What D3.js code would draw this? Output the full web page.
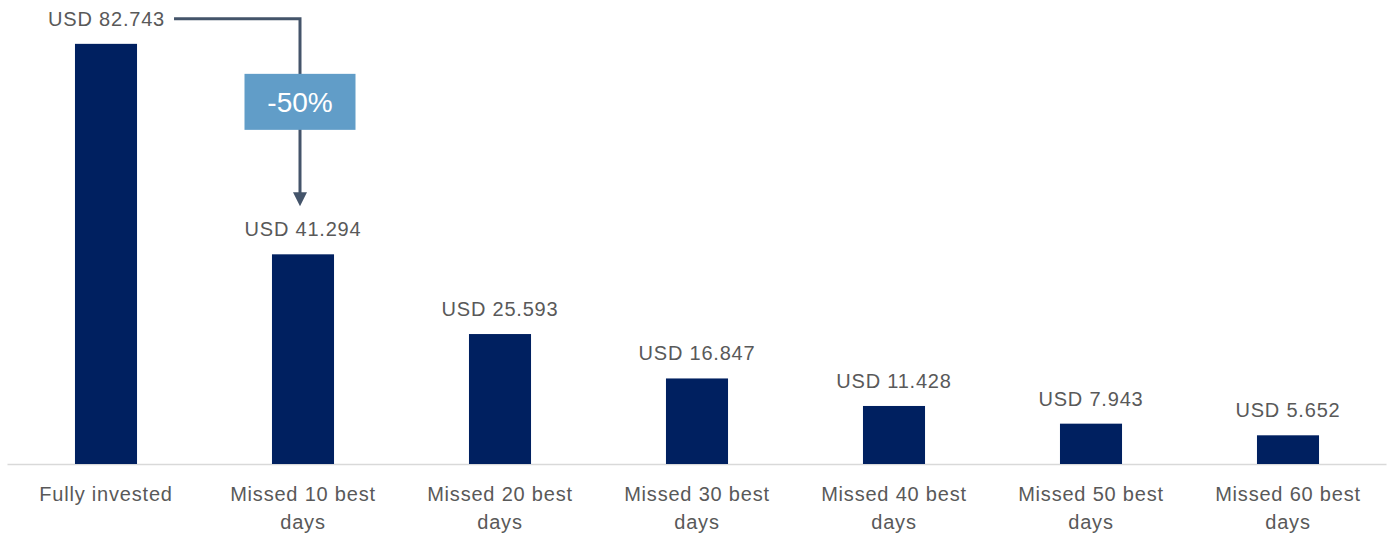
<!DOCTYPE html>
<html>
<head>
<meta charset="utf-8">
<script src="https://cdn.jsdelivr.net/npm/d3@7"></script>
<style>
  body { margin: 0; background: #fff; }
  svg { display: block; }
</style>
</head>
<body>
<script>
// categories (each split into label lines) and values in thousands of USD
const categories = ['Fully invested', 'Missed 10 best days', 'Missed 20 best days', 'Missed 30 best days',
    'Missed 40 best days', 'Missed 50 best days', 'Missed 60 best days'];
const tickLines = [['Fully invested'], ['Missed 10 best', 'days'], ['Missed 20 best', 'days'],
    ['Missed 30 best', 'days'], ['Missed 40 best', 'days'], ['Missed 50 best', 'days'], ['Missed 60 best', 'days']];
const values = [82.743, 41.294, 25.593, 16.847, 11.428, 7.943, 5.652];
const valueLabels = ['USD 82.743', 'USD 41.294', 'USD 25.593', 'USD 16.847', 'USD 11.428', 'USD 7.943', 'USD 5.652'];

const W = 1391, H = 535;
const margin = { top: 7, right: 4.5, bottom: 71, left: 7.5 };
const width = W - margin.left - margin.right;
const height = H - margin.top - margin.bottom;

const font = '"Liberation Sans", Arial, sans-serif';
const textColor = '#595959';
const spacing = '0.8px';

const svg = d3.select('body').append('svg')
    .attr('width', W)
    .attr('height', H)
    .append('g')
    .attr('transform', `translate(${margin.left}, ${margin.top})`);

const x = d3.scaleBand()
    .domain(categories)
    .range([0, width])
    .paddingInner(0.685)
    .paddingOuter(0.3425);

const y = d3.scaleLinear()
    .domain([0, 90])
    .range([height, 0]);

// baseline
svg.append('line')
    .attr('x1', 0).attr('x2', width)
    .attr('y1', height + 0.5).attr('y2', height + 0.5)
    .attr('stroke', '#d9d9d9')
    .attr('stroke-width', 1.5);

// bars
svg.selectAll('.bar')
    .data(values)
    .enter()
    .append('rect')
    .attr('class', 'bar')
    .attr('x', (d, i) => x(categories[i]))
    .attr('y', d => y(d))
    .attr('width', x.bandwidth())
    .attr('height', d => height - y(d))
    .attr('fill', '#002060');

// value labels (first one sits to the left, where the arrow starts)
svg.selectAll('.val')
    .data(values)
    .enter()
    .append('text')
    .attr('class', 'val')
    .attr('x', (d, i) => i === 0 ? x(categories[0]) + x.bandwidth() + 28 : x(categories[i]) + x.bandwidth() / 2)
    .attr('y', d => y(d) - 18)
    .attr('text-anchor', (d, i) => i === 0 ? 'end' : 'middle')
    .style('font-family', font)
    .style('font-size', '20px')
    .style('letter-spacing', spacing)
    .style('fill', textColor)
    .text((d, i) => valueLabels[i]);

// category labels
const ticks = svg.selectAll('.tick')
    .data(categories)
    .enter()
    .append('text')
    .attr('class', 'tick')
    .attr('x', d => x(d) + x.bandwidth() / 2)
    .attr('y', height + 37)
    .attr('text-anchor', 'middle')
    .style('font-family', font)
    .style('font-size', '20px')
    .style('letter-spacing', spacing)
    .style('fill', textColor);

ticks.selectAll('tspan')
    .data((d, i) => tickLines[i])
    .enter()
    .append('tspan')
    .attr('x', function () { return d3.select(this.parentNode).attr('x'); })
    .attr('dy', (d, j) => j === 0 ? 0 : 28)
    .text(d => d);

// -50% connector arrow from first to second bar
const arrowColor = '#44546a';
const x0 = x(categories[0]) + x.bandwidth() + 37;
const x1 = x(categories[1]) + x.bandwidth() / 2 - 3;
const yTop = y(values[0]) - 25;
const yTip = y(values[1]) - 48;

svg.append('path')
    .attr('d', `M${x0},${yTop} H${x1} V${yTip - 12}`)
    .attr('fill', 'none')
    .attr('stroke', arrowColor)
    .attr('stroke-width', 3);

svg.append('path')
    .attr('d', `M${x1 - 7},${yTip - 14} L${x1 + 7},${yTip - 14} L${x1},${yTip} Z`)
    .attr('fill', arrowColor);

const pct = Math.round((values[1] / values[0] - 1) * 100);
const boxW = 111, boxH = 56;
const boxCy = yTop + 83;

svg.append('rect')
    .attr('x', x1 - boxW / 2)
    .attr('y', boxCy - boxH / 2)
    .attr('width', boxW)
    .attr('height', boxH)
    .attr('fill', '#619dc8');

svg.append('text')
    .attr('x', x1)
    .attr('y', boxCy + 10)
    .attr('text-anchor', 'middle')
    .style('font-family', font)
    .style('font-size', '28px')
    .style('fill', '#fff')
    .text(`${pct}%`);
</script>
</body>
</html>
